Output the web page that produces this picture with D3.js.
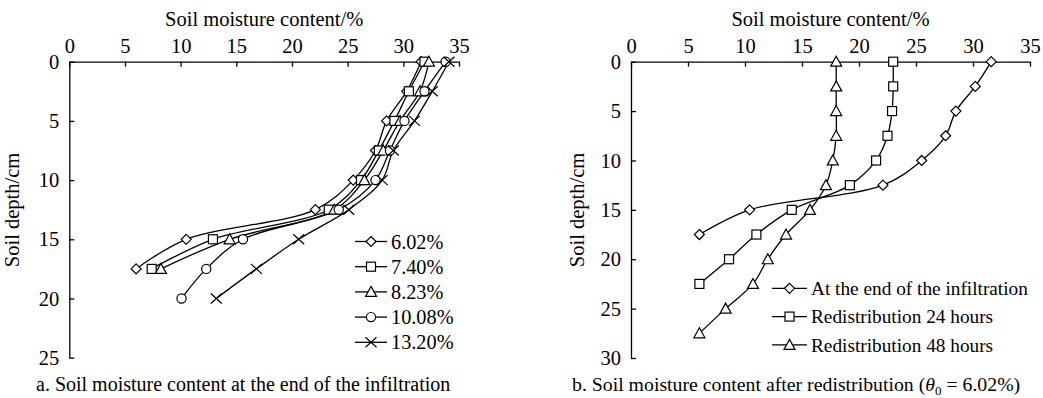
<!DOCTYPE html>
<html>
<head>
<meta charset="utf-8">
<script src="https://cdn.jsdelivr.net/npm/d3@7"></script>
<style>
  html, body { margin: 0; padding: 0; background: #fff; }
  svg text { font-family: "Liberation Serif", "Tinos", "Times New Roman", "DejaVu Serif", serif !important; fill: #000; }
</style>
</head>
<body>
<svg id="chart" width="1043" height="398"></svg>
<script>
// ---------- Data ----------
const xTicks = [0, 5, 10, 15, 20, 25, 30, 35];
const yTicksA = [0, 5, 10, 15, 20, 25];
const yTicksB = [0, 5, 10, 15, 20, 25, 30];

// Panel a: depth (cm) and soil moisture content (%) for each initial moisture
const depthsA = [0, 2.5, 5, 7.5, 10, 12.5, 15, 17.5, 20];
const seriesA_names = ["6.02%", "7.40%", "8.23%", "10.08%", "13.20%"];
const a602  = [31.6, 30.3, 28.5, 27.5, 25.5, 22.1, 10.5, 6.0];
const a740  = [31.9, 30.5, 29.2, 27.8, 26.2, 23.3, 12.9, 7.4];
const a823  = [32.3, 31.5, 29.7, 28.2, 26.5, 23.8, 14.4, 8.23];
const a1008 = [33.8, 31.9, 30.1, 28.8, 27.5, 24.2, 15.6, 12.3, 10.08];
const a1320 = [34.1, 32.6, 31.0, 29.1, 28.1, 25.1, 20.6, 16.8, 13.2];
const markersA = ["diamond", "square", "triangle", "circle", "cross"];

// Panel b: redistribution
const depthsB = [0, 2.5, 5, 7.5, 10, 12.5, 15, 17.5, 20, 22.5, 25, 27.5];
const seriesB_names = ["At the end of the infiltration", "Redistribution 24 hours", "Redistribution 48 hours"];
const bEnd = [31.6, 30.2, 28.5, 27.6, 25.5, 22.1, 10.4, 6.0];
const b24  = [23.0, 23.0, 22.9, 22.5, 21.5, 19.2, 14.1, 11.0, 8.6, 6.0];
const b48  = [18.0, 18.0, 18.0, 18.0, 17.7, 17.1, 15.7, 13.6, 12.0, 10.7, 8.3, 6.0];
const markersB = ["diamond", "square", "triangle"];

// ---------- Drawing ----------
const svg = d3.select("#chart");
const TICK_FONT = 20.5;
const TITLE_FONT = 20.5;

function marker(g, type, x, y) {
  const s = 5;
  let el;
  if (type === "diamond") {
    el = g.append("path").attr("d", `M${x},${y - s}L${x + s},${y}L${x},${y + s}L${x - s},${y}Z`);
  } else if (type === "square") {
    el = g.append("rect").attr("x", x - 4.5).attr("y", y - 4.5).attr("width", 9).attr("height", 9);
  } else if (type === "triangle") {
    el = g.append("path").attr("d", `M${x},${y - 5.5}L${x + 5.5},${y + 4.5}L${x - 5.5},${y + 4.5}Z`);
  } else if (type === "circle") {
    el = g.append("circle").attr("cx", x).attr("cy", y).attr("r", 4.6);
  } else if (type === "cross") {
    el = g.append("path").attr("d", `M${x - 5.5},${y - 5}L${x + 5.5},${y + 5}M${x + 5.5},${y - 5}L${x - 5.5},${y + 5}`);
  }
  el.attr("fill", type === "cross" ? "none" : "#fff").attr("stroke", "#000").attr("stroke-width", 1.2);
}

function panel(opts) {
  const x = d3.scaleLinear().domain([0, 35]).range([opts.x0, opts.x1]);
  const y = d3.scaleLinear().domain([0, opts.yMax]).range([opts.y0, opts.y1]);
  const g = svg.append("g");

  const ax = g.append("g").attr("transform", `translate(0,${opts.y0})`)
    .call(d3.axisTop(x).tickValues(xTicks).tickSize(-5).tickSizeOuter(0).tickPadding(9));
  const ay = g.append("g").attr("transform", `translate(${opts.x0},0)`)
    .call(d3.axisLeft(y).tickValues(opts.yTicks).tickSize(-5).tickSizeOuter(0).tickPadding(10));
  [ax, ay].forEach(a => {
    a.attr("font-size", TICK_FONT);
    a.selectAll("text").attr("font-size", TICK_FONT);
    a.selectAll("line").attr("stroke", "#000").attr("stroke-width", 1.3);
    a.select(".domain").attr("stroke", "#000").attr("stroke-width", 1.3);
  });

  g.append("text").attr("x", (opts.x0 + opts.x1) / 2 + opts.titleDx).attr("y", 26)
    .attr("text-anchor", "middle").attr("font-size", TITLE_FONT).text("Soil moisture content/%");
  g.append("text").attr("transform", `translate(${opts.yTitleX},${opts.yTitleY}) rotate(-90)`)
    .attr("text-anchor", "middle").attr("font-size", TITLE_FONT).text("Soil depth/cm");

  const line = d3.line().x(d => x(d[0])).y(d => y(d[1])).curve(d3.curveCatmullRom.alpha(0.5));

  opts.series.forEach((vals) => {
    const pts = vals.map((v, j) => [v, opts.depths[j]]);
    g.append("path").attr("d", line(pts)).attr("fill", "none")
      .attr("stroke", "#000").attr("stroke-width", 1.3);
  });
  opts.series.forEach((vals, i) => {
    vals.forEach((v, j) => marker(g, opts.markers[i], x(v), y(opts.depths[j])));
  });

  opts.names.forEach((name, i) => {
    const ly = opts.legY + i * opts.legStep;
    g.append("line").attr("x1", opts.legX).attr("x2", opts.legX + opts.legW)
      .attr("y1", ly).attr("y2", ly).attr("stroke", "#000").attr("stroke-width", 1.3);
    marker(g, opts.markers[i], opts.legX + opts.legW / 2, ly);
    g.append("text").attr("x", opts.legX + opts.legW + 4).attr("y", ly).attr("dy", "0.35em")
      .attr("font-size", opts.legFont).text(name);
  });
  return g;
}

panel({
  x0: 69.3, x1: 459, y0: 61.7, y1: 357.7, yMax: 25, yTicks: yTicksA,
  depths: depthsA, series: [a602, a740, a823, a1008, a1320], markers: markersA, names: seriesA_names,
  titleDx: 0, yTitleX: 19, yTitleY: 210,
  legX: 355, legW: 32, legY: 241.5, legStep: 25.2, legFont: 20.3
});

panel({
  x0: 631, x1: 1030, y0: 61.7, y1: 358, yMax: 30, yTicks: yTicksB,
  depths: depthsB, series: [bEnd, b24, b48], markers: markersB, names: seriesB_names,
  titleDx: 0, yTitleX: 584, yTitleY: 210,
  legX: 772, legW: 35, legY: 288.3, legStep: 28.3, legFont: 19.3
});

svg.append("text").attr("x", 36).attr("y", 391).attr("font-size", 20)
  .text("a. Soil moisture content at the end of the infiltration");
const cb = svg.append("text").attr("x", 572).attr("y", 391).attr("font-size", 19.8);
cb.append("tspan").text("b. Soil moisture content after redistribution (");
cb.append("tspan").attr("font-style", "italic").text("θ");
cb.append("tspan").attr("font-size", 13).attr("dy", 4).text("0");
cb.append("tspan").attr("dy", -4).text(" = 6.02%)");
</script>
</body>
</html>
